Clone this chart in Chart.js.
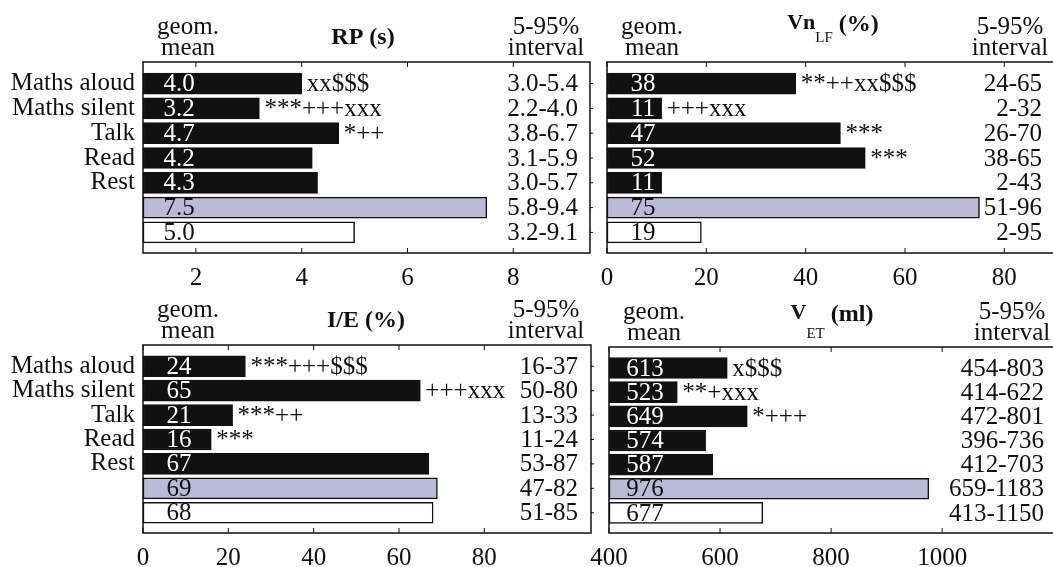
<!DOCTYPE html>
<html>
<head>
<meta charset="utf-8">
<script src="https://cdn.jsdelivr.net/npm/chart.js@4.4.1/dist/chart.umd.min.js"></script>
<style>
  html, body { margin: 0; padding: 0; background: #fff; overflow: hidden; }
  body { width: 1053px; height: 567px; position: relative; }
  canvas { position: absolute; }
</style>
</head>
<body>
<canvas id="cRP" width="600" height="287" style="left:0;top:0"></canvas>
<canvas id="cVN" width="510" height="287" style="left:560px;top:0"></canvas>
<canvas id="cIE" width="600" height="284" style="left:0;top:283px"></canvas>
<canvas id="cVET" width="510" height="284" style="left:560px;top:283px"></canvas>
<script>
// rows: five activities, then the two reference groups (no row name)
const rowLabels = ["Maths aloud", "Maths silent", "Talk", "Read", "Rest", "", ""];

// RP (s)
const rpMean = [4.0, 3.2, 4.7, 4.2, 4.3, 7.5, 5.0];
const rpSig = ["xx$$$", "***+++xxx", "*++", "", "", "", ""];
const rpInterval = ["3.0-5.4", "2.2-4.0", "3.8-6.7", "3.1-5.9", "3.0-5.7", "5.8-9.4", "3.2-9.1"];
const rpTicks = [2, 4, 6, 8];

// Vn LF (%)
const vnMean = [38, 11, 47, 52, 11, 75, 19];
const vnSig = ["**++xx$$$", "+++xxx", "***", "***", "", "", ""];
const vnInterval = ["24-65", "2-32", "26-70", "38-65", "2-43", "51-96", "2-95"];
const vnTicks = [0, 20, 40, 60, 80];

// I/E (%)
const ieMean = [24, 65, 21, 16, 67, 69, 68];
const ieSig = ["***+++$$$", "+++xxx", "***++", "***", "", "", ""];
const ieInterval = ["16-37", "50-80", "13-33", "11-24", "53-87", "47-82", "51-85"];
const ieTicks = [0, 20, 40, 60, 80];

// V ET (ml)
const vetMean = [613, 523, 649, 574, 587, 976, 677];
const vetSig = ["x$$$", "**+xxx", "*+++", "", "", "", ""];
const vetInterval = ["454-803", "414-622", "472-801", "396-736", "412-703", "659-1183", "413-1150"];
const vetTicks = [400, 600, 800, 1000];

const FONT = "'Liberation Serif', 'Times New Roman', serif";
const SIZE = 25;
const INK = "#111";
const SHADE = "#b9bbd7";
Chart.defaults.font.family = FONT;
Chart.defaults.color = INK;

function rowFill(i) {
  if (i < 5) return INK;
  return i === 5 ? SHADE : "#fff";
}

function line(ctx, x1, y1, x2, y2) {
  ctx.beginPath();
  ctx.moveTo(x1, y1);
  ctx.lineTo(x2, y2);
  ctx.stroke();
}

// frame, inward ticks, in-bar values, significance marks, intervals, headers
const panelDecor = {
  id: "panelDecor",
  afterDatasetsDraw(chart) {
    const p = chart.options.plugins.panelDecor;
    const { ctx, chartArea: a } = chart;
    const x = chart.scales.x, y = chart.scales.y;
    ctx.save();
    ctx.strokeStyle = INK;
    ctx.lineWidth = 1.5;
    ctx.strokeRect(a.left, a.top, a.right - a.left, a.bottom - a.top);
    ctx.lineWidth = 1;
    x.ticks.forEach(t => {
      const px = x.getPixelForValue(t.value);
      line(ctx, px, a.bottom, px, a.bottom - 5);
      line(ctx, px, a.top, px, a.top + 5);
    });
    if (p.rowTicks) {
      y.ticks.forEach(t => {
        const py = y.getPixelForValue(t.value);
        line(ctx, a.right, py, a.right + 3, py);
      });
    }

    ctx.font = SIZE + "px " + FONT;
    ctx.textBaseline = "middle";
    chart.getDatasetMeta(0).data.forEach((bar, i) => {
      const cy = bar.y + 1;
      ctx.textAlign = "center";
      ctx.fillStyle = i < 5 ? "#fff" : INK;
      ctx.fillText(p.values[i].toFixed(p.decimals), a.left + 36, cy);
      ctx.fillStyle = INK;
      if (p.sig[i]) {
        ctx.textAlign = "left";
        ctx.fillText(p.sig[i], bar.x + 5, cy);
      }
      ctx.textAlign = "right";
      ctx.fillText(p.interval[i], a.left + 435, cy);
    });

    // column headers
    ctx.textBaseline = "alphabetic";
    ctx.textAlign = "center";
    ctx.fillText("geom.", a.left + 45, a.top - 28);
    ctx.fillText("mean", a.left + 45, a.top - 7);
    ctx.fillText("5-95%", a.left + 403, a.top - 28);
    ctx.fillText("interval", a.left + 403, a.top - 7);

    // title, with optional subscript parts
    ctx.textAlign = "left";
    const parts = p.title.map(([text, size, dy, bold]) => {
      ctx.font = (bold ? "bold " : "") + size + "px " + FONT;
      return { text, dy, font: ctx.font, w: ctx.measureText(text).width };
    });
    const total = parts.reduce((s, q) => s + q.w, 0);
    let tx = a.left + p.titleCenter - total / 2;
    parts.forEach(q => {
      ctx.font = q.font;
      ctx.fillText(q.text, tx, a.top + q.dy);
      tx += q.w;
    });
    ctx.restore();
  }
};

function makePanel(id, opt) {
  return new Chart(document.getElementById(id), {
    type: "bar",
    data: {
      datasets: [{
        data: opt.values.map((v, i) => ({ x: v, y: i })),
        backgroundColor: opt.values.map((v, i) => rowFill(i)),
        borderColor: INK,
        borderWidth: 1.5,
        borderSkipped: false,
        barThickness: 21,
        base: opt.min,
        clip: 1
      }]
    },
    options: {
      indexAxis: "y",
      responsive: false,
      animation: false,
      layout: { padding: { top: opt.padTop, right: opt.padRight, left: 0, bottom: 0 } },
      plugins: {
        legend: { display: false },
        tooltip: { enabled: false },
        panelDecor: opt
      },
      scales: {
        x: {
          type: "linear",
          min: opt.min,
          max: opt.max,
          offset: false,
          afterBuildTicks: s => { s.ticks = opt.ticks.map(v => ({ value: v })); },
          afterFit: s => { s.height = 34; },
          grid: { display: false, drawTicks: false },
          border: { display: false },
          ticks: {
            autoSkip: false, maxRotation: 0, padding: 10,
            font: { size: SIZE }, color: INK,
            callback: v => String(v)
          }
        },
        y: {
          type: "linear",
          reverse: true,
          offset: false,
          min: -0.87,
          max: 6.83,
          afterBuildTicks: s => { s.ticks = rowLabels.map((_, i) => ({ value: i })); },
          afterFit: s => { s.width = opt.yWidth; },
          grid: { display: false, drawTicks: false },
          border: { display: false },
          ticks: {
            display: opt.rowTicks,
            autoSkip: false,
            padding: 8,
            font: { size: SIZE },
            color: INK,
            callback: v => rowLabels[v]
          }
        }
      }
    },
    plugins: [panelDecor]
  });
}

makePanel("cRP", {
  values: rpMean, sig: rpSig, interval: rpInterval, ticks: rpTicks, decimals: 1,
  min: 1, max: 9.45, yWidth: 143, padTop: 62, padRight: 10, rowTicks: true,
  titleCenter: 220, title: [["RP (s)", 24, -18, true]]
});
makePanel("cVN", {
  values: vnMean, sig: vnSig, interval: vnInterval, ticks: vnTicks, decimals: 0,
  min: 0, max: 90, yWidth: 47, padTop: 62, padRight: 16, rowTicks: false,
  titleCenter: 226, title: [["Vn", 22, -33, true], ["LF", 15, -20, false], [" (%)", 24, -31, true]]
});
makePanel("cIE", {
  values: ieMean, sig: ieSig, interval: ieInterval, ticks: ieTicks, decimals: 0,
  min: 0, max: 105, yWidth: 143, padTop: 62, padRight: 9, rowTicks: true,
  titleCenter: 223, title: [["I/E (%)", 24, -18, true]]
});
makePanel("cVET", {
  values: vetMean, sig: vetSig, interval: vetInterval, ticks: vetTicks, decimals: 0,
  min: 400, max: 1205, yWidth: 49, padTop: 64, padRight: 14, rowTicks: false,
  titleCenter: 223, title: [["V", 22, -28, true], ["ET", 15, -9, false], [" (ml)", 24, -26, true]]
});
</script>
</body>
</html>
